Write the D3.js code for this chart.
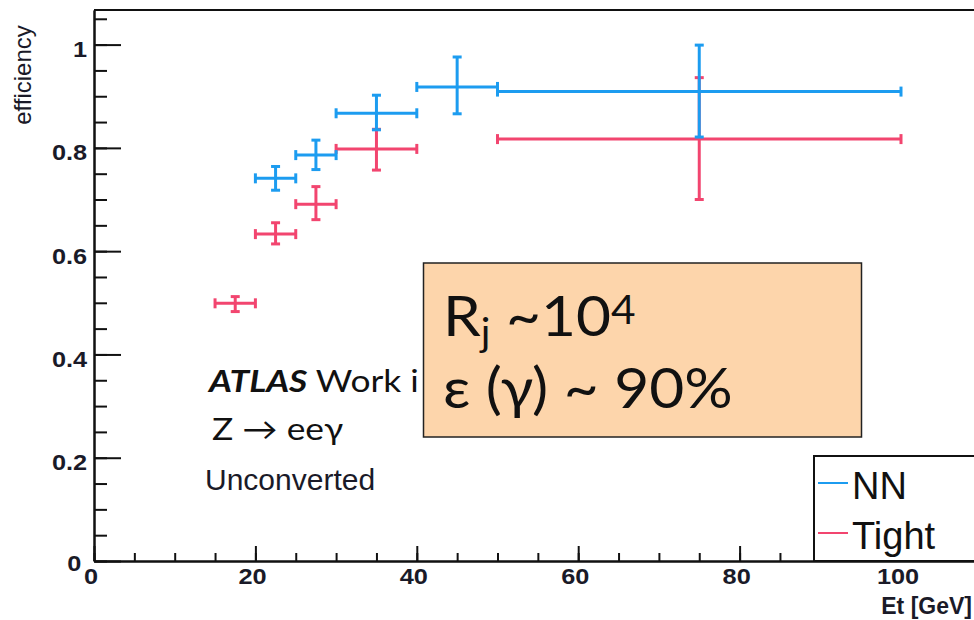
<!DOCTYPE html>
<html lang="en">
<head>
<meta charset="utf-8">
<title>NN vs Tight efficiency</title>
<script src="https://cdnjs.cloudflare.com/ajax/libs/d3/7.8.5/d3.min.js"></script>
<style>
	body { margin: 0; background: #fff; }
	.axis text { font: bold 22px "Liberation Sans", Arial, sans-serif; fill: #1a1a28; }
	.axis path, .axis line { stroke: #111; stroke-width: 2px; }
	.calib { font-family: Lato, "Noto Sans", sans-serif; fill: #111; }
</style>
</head>
<body>
<div id="chart"></div>
<script>
// bin edges (Et, GeV) and efficiencies
var nnLow = [20, 25, 30, 40, 50];
var nnHigh = [25, 30, 40, 50, 100];
var nnEff = [0.741, 0.786, 0.867, 0.918, 0.909];
var nnErrUp = [0.023, 0.029, 0.035, 0.058, 0.090];
var nnErrDown = [0.023, 0.028, 0.032, 0.052, 0.088];

var tightLow = [15, 20, 25, 30, 50];
var tightHigh = [20, 25, 30, 40, 100];
var tightEff = [0.499, 0.633, 0.691, 0.798, 0.817];
var tightErrUp = [0.013, 0.022, 0.034, 0.038, 0.119];
var tightErrDown = [0.016, 0.019, 0.030, 0.041, 0.117];

var yMajor = [0, 0.2, 0.4, 0.6, 0.8, 1];
var xMajor = [0, 20, 40, 60, 80, 100];

var width = 974, height = 620;
var nnColor = "#1c9cf0", tightColor = "#f2456f";

var svg = d3.select("#chart").append("svg")
	.attr("width", width)
	.attr("height", height);

var x = d3.scaleLinear().domain([0, 110]).range([94, 94 + 8.07 * 110]);
var y = d3.scaleLinear().domain([0, 1.067]).range([561, 10]);

//minor ticks every 0.05 / 5 GeV
var yMinor = d3.range(0, 1.06, 0.05);
var xMinor = d3.range(0, 110, 5);

svg.append("g").attr("class", "axis")
	.attr("transform", "translate(94,0)")
	.call(d3.axisLeft(y).tickValues(yMinor).tickSize(-13).tickSizeOuter(0).tickFormat(""));
var yAxis = svg.append("g").attr("class", "axis")
	.attr("transform", "translate(94,0)")
	.call(d3.axisLeft(y).tickValues(yMajor).tickSize(-27).tickSizeOuter(0).tickPadding(6)
		.tickFormat(function(d) { return d === 0 || d === 1 ? d : d3.format(".1f")(d); }));
yAxis.selectAll("text")
	.attr("dy", "0.55em")
	.attr("transform", "scale(1.15,1)")
	.filter(function(d) { return d === 0; })
	.attr("x", -11).attr("dy", "0.45em");

svg.append("g").attr("class", "axis")
	.attr("transform", "translate(0,561)")
	.call(d3.axisBottom(x).tickValues(xMinor).tickSize(-8).tickSizeOuter(0).tickFormat(""));
var xAxis = svg.append("g").attr("class", "axis")
	.attr("transform", "translate(0,561)")
	.call(d3.axisBottom(x).tickValues(xMajor).tickSize(-15).tickSizeOuter(0).tickPadding(7));
xAxis.selectAll("text").attr("x", -3).attr("transform", "scale(1.15,1)");

//frame top
svg.append("line")
	.attr("x1", x(0)).attr("x2", width)
	.attr("y1", y(1.067)).attr("y2", y(1.067))
	.attr("stroke", "#111").attr("stroke-width", 2);

function drawSeries(low, high, eff, up, down, color) {
	var pts = eff.map(function(v, i) {
		return { lo: low[i], hi: high[i], c: (low[i] + high[i]) / 2, v: v, up: up[i], down: down[i] };
	});
	var g = svg.append("g").attr("stroke", color).attr("stroke-width", 3).attr("fill", "none");
	var p = g.selectAll("g").data(pts).enter().append("g");
	p.append("line")
		.attr("x1", function(d) { return x(d.lo); }).attr("x2", function(d) { return x(d.hi); })
		.attr("y1", function(d) { return y(d.v); }).attr("y2", function(d) { return y(d.v); });
	p.append("line")
		.attr("x1", function(d) { return x(d.c); }).attr("x2", function(d) { return x(d.c); })
		.attr("y1", function(d) { return y(d.v + d.up); }).attr("y2", function(d) { return y(d.v - d.down); });
	// caps
	p.append("line")
		.attr("x1", function(d) { return x(d.lo); }).attr("x2", function(d) { return x(d.lo); })
		.attr("y1", function(d) { return y(d.v) - 5; }).attr("y2", function(d) { return y(d.v) + 5; });
	p.append("line")
		.attr("x1", function(d) { return x(d.hi); }).attr("x2", function(d) { return x(d.hi); })
		.attr("y1", function(d) { return y(d.v) - 5; }).attr("y2", function(d) { return y(d.v) + 5; });
	p.append("line")
		.attr("x1", function(d) { return x(d.c) - 4.5; }).attr("x2", function(d) { return x(d.c) + 4.5; })
		.attr("y1", function(d) { return y(d.v + d.up); }).attr("y2", function(d) { return y(d.v + d.up); });
	p.append("line")
		.attr("x1", function(d) { return x(d.c) - 4.5; }).attr("x2", function(d) { return x(d.c) + 4.5; })
		.attr("y1", function(d) { return y(d.v - d.down); }).attr("y2", function(d) { return y(d.v - d.down); });
}

drawSeries(tightLow, tightHigh, tightEff, tightErrUp, tightErrDown, tightColor);
drawSeries(nnLow, nnHigh, nnEff, nnErrUp, nnErrDown, nnColor);

//axis titles
svg.append("text")
	.attr("transform", "translate(31,75) rotate(-90)")
	.attr("text-anchor", "middle")
	.style("font", "24px 'Liberation Sans', Arial, sans-serif")
	.style("fill", "#1a1a28")
	.text("efficiency");
svg.append("text")
	.attr("x", 972).attr("y", 614)
	.attr("text-anchor", "end")
	.style("font", "bold 23px 'Liberation Sans', Arial, sans-serif")
	.style("fill", "#1a1a28")
	.text("Et [GeV]");

//legend
svg.append("rect")
	.attr("x", 814).attr("y", 456).attr("width", 200).attr("height", 105)
	.attr("fill", "#fff").attr("stroke", "#111").attr("stroke-width", 2);
var legendItems = [["NN", nnColor, 483], ["Tight", tightColor, 533]];
legendItems.forEach(function(d) {
	svg.append("line")
		.attr("x1", 818).attr("x2", 848).attr("y1", d[2]).attr("y2", d[2])
		.attr("stroke", d[1]).attr("stroke-width", 2);
	svg.append("text")
		.attr("x", 852).attr("y", d[2] + 16)
		.style("font", "38px 'Liberation Sans', Arial, sans-serif")
		.style("fill", "#111")
		.text(d[0]);
});

//annotations (the "Work in progress" label is cut off by the box in the original)
var atlas = svg.append("text").attr("class", "calib")
	.attr("transform", "translate(209,392) scale(1.14,1)")
	.style("font-size", "31px");
atlas.append("tspan").style("font-weight", "bold").style("font-style", "italic").text("ATLAS");
atlas.append("tspan").text(" Work i");

svg.append("text").attr("class", "calib")
	.attr("transform", "translate(212,440) scale(1.14,1)")
	.style("font-size", "31px")
	.text("Z \u2192 ee\u03b3");

svg.append("text")
	.attr("x", 205).attr("y", 490)
	.style("font", "30px 'Liberation Sans', Arial, sans-serif")
	.style("fill", "#1a1a28")
	.text("Unconverted");

//orange box
svg.append("rect")
	.attr("x", 423.5).attr("y", 263).attr("width", 438).attr("height", 174)
	.attr("fill", "#fdd5ab").attr("stroke", "#222").attr("stroke-width", 1.5);

var line1 = svg.append("text").attr("class", "calib")
	.attr("transform", "translate(443,336) scale(1.06,1)")
	.style("font-size", "57px");
line1.append("tspan").text("R");
line1.append("tspan").attr("dy", 10).style("font-size", "38px").text("j");
line1.append("tspan").attr("dy", -10).text(" ~10");
line1.append("tspan").attr("dy", -12).style("font-size", "40px").text("4");

svg.append("text").attr("class", "calib")
	.attr("transform", "translate(443,408) scale(1.06,1)")
	.style("font-size", "57px")
	.text("\u03b5 (\u03b3) ~ 90%");
</script>
</body>
</html>
